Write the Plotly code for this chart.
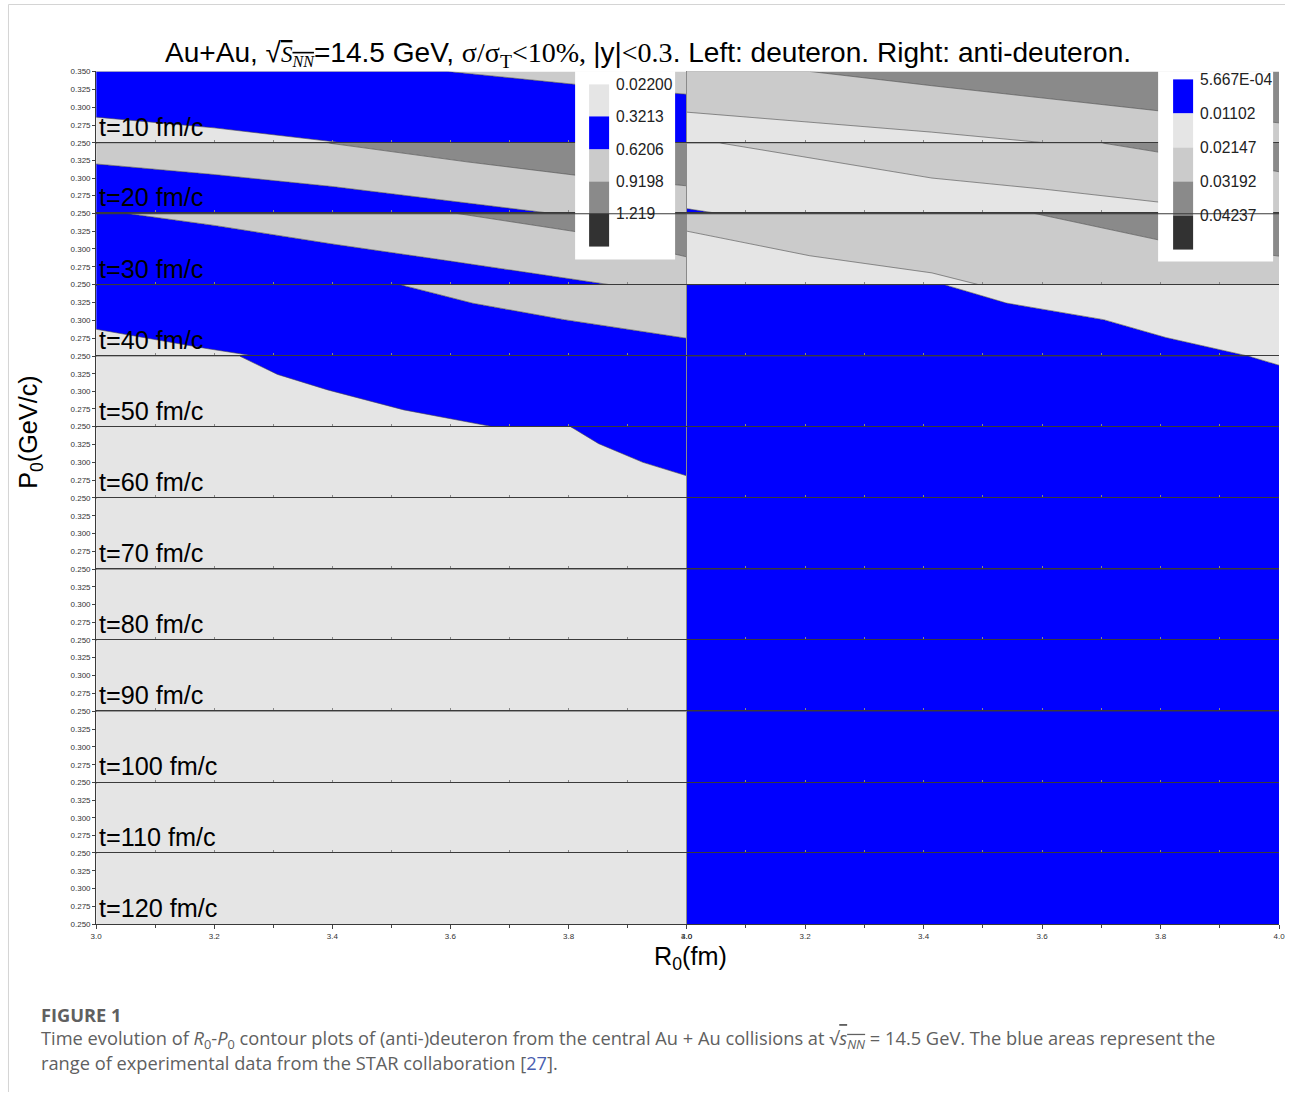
import plotly.graph_objects as go

W, H = 1291, 1097
# calibration of the captured picture (scale and offset observed in the photo)
S, BX, BY = 0.9907, 5.9, 4.7

# ---------------- data ----------------
times = [10, 20, 30, 40, 50, 60, 70, 80, 90, 100, 110, 120]

deut_levels = ["0.02200", "0.3213", "0.6206", "0.9198", "1.219"]
anti_levels = ["5.667E-04", "0.01102", "0.02147", "0.03192", "0.04237"]

# band level index (bottom -> top) in each panel, and the contour boundaries
# between consecutive bands as (R0 values, P0 values)
deut_bands = {10: [0, 1, 2], 20: [1, 2, 3], 30: [1, 2, 3], 40: [0, 1, 2],
              50: [0, 1], 60: [0, 1]}
deut_r = {
    10: [[3.0, 3.2, 3.418, 4.0], [3.0, 3.595, 3.822, 4.0]],
    20: [[3.0, 3.2, 3.4, 3.6, 3.77, 4.0], [3.0, 3.391, 3.628, 3.822, 4.0]],
    30: [[3.0, 3.05, 3.2, 3.4, 3.6, 3.87, 4.0], [3.0, 3.609, 3.822, 4.0]],
    40: [[3.0, 3.184, 3.269, 4.0], [3.0, 3.515, 3.638, 3.793, 4.0]],
    50: [[3.0, 3.243, 3.307, 3.392, 3.521, 3.670, 4.0]],
    60: [[3.0, 3.803, 3.851, 3.926, 4.0]],
}
deut_p = {
    10: [[0.286, 0.271, 0.25, 0.25], [0.35, 0.35, 0.331, 0.318]],
    20: [[0.320, 0.305, 0.288, 0.268, 0.25, 0.25], [0.35, 0.35, 0.323, 0.303, 0.289]],
    30: [[0.35, 0.35, 0.333, 0.307, 0.283, 0.25, 0.25], [0.35, 0.35, 0.323, 0.289]],
    40: [[0.2876, 0.261, 0.25, 0.25], [0.35, 0.35, 0.324, 0.301, 0.275]],
    50: [[0.35, 0.35, 0.324, 0.302, 0.2736, 0.25, 0.25]],
    60: [[0.35, 0.35, 0.326, 0.2998, 0.281]],
}

anti_bands = {10: [1, 2, 3], 20: [0, 1, 2, 3], 30: [1, 2, 3], 40: [0, 1], 50: [0, 1]}
anti_r = {
    10: [[3.0, 3.414, 3.606, 4.0], [3.0, 3.208, 3.414, 3.806, 4.0]],
    20: [[3.0, 3.051, 4.0], [3.0, 3.055, 3.414, 3.606, 3.806, 4.0], [3.0, 3.70, 3.806, 4.0]],
    30: [[3.0, 3.208, 3.414, 3.493, 4.0], [3.0, 3.586, 3.806, 4.0]],
    40: [[3.0, 3.435, 3.540, 3.704, 3.809, 3.948, 4.0]],
    50: [[3.0, 3.948, 4.0]],
}
anti_p = {
    10: [[0.293, 0.265, 0.25, 0.25], [0.35, 0.35, 0.330, 0.294, 0.278]],
    20: [[0.2566, 0.25, 0.25], [0.35, 0.35, 0.300, 0.284, 0.265, 0.25], [0.35, 0.35, 0.3355, 0.309]],
    30: [[0.325, 0.2905, 0.2665, 0.25, 0.25], [0.35, 0.35, 0.311, 0.29]],
    40: [[0.35, 0.35, 0.3242, 0.301, 0.276, 0.25, 0.25]],
    50: [[0.35, 0.35, 0.337]],
}

p_ticks = [0.25, 0.275, 0.30, 0.325, 0.35]
r_ticks = [3.0, 3.2, 3.4, 3.6, 3.8, 4.0]

# ---------------- styles ----------------
deut_colors = ["#e5e5e5", "#0000ff", "#cbcbcb", "#8a8a8a", "#323232"]
anti_colors = ["#0000ff", "#e5e5e5", "#cbcbcb", "#8a8a8a", "#323232"]

COL_X = [(96, 687), (687, 1279)]
ROW_TOP, ROW_H = 72, 71


def clamp(v):
    return min(1.0, max(0.0, v))


def ax_px(X):
    return (X - BX) / S


def ay_px(Y):
    return (Y - BY) / S


def px(X):
    return clamp(ax_px(X) / W)


def py(Y):
    return clamp(1 - ay_px(Y) / H)


def dom_x(X):          # pixel-snapped domain edge
    return clamp(round(ax_px(X)) / W)


def dom_y(Y):
    return clamp(1 - round(ay_px(Y)) / H)


def fs(v):
    return v / S


fig = go.Figure()
layout = dict(width=W, height=H, margin=dict(l=0, r=0, t=0, b=0),
              paper_bgcolor="white", plot_bgcolor="white", showlegend=False)

annotations = []
shapes = []

for r, t in enumerate(times):
    for c in range(2):
        idx = r * 2 + c + 1
        xn = "x" if idx == 1 else f"x{idx}"
        yn = "y" if idx == 1 else f"y{idx}"
        xk = "xaxis" if idx == 1 else f"xaxis{idx}"
        yk = "yaxis" if idx == 1 else f"yaxis{idx}"
        top = ROW_TOP + r * ROW_H
        bot = top + ROW_H
        x0, x1 = COL_X[c]

        xa = dict(domain=[dom_x(x0), dom_x(x1)], range=[3.0, 4.0], anchor=yn,
                  showgrid=False, zeroline=False, showline=True,
                  mirror=(r > 0), linecolor="#3a3a3a", linewidth=1, fixedrange=True)
        if r == len(times) - 1:
            xa.update(ticks="outside", ticklen=4, tickcolor="#444",
                      tickvals=r_ticks, ticktext=[f"{v:.1f}" for v in r_ticks],
                      tickfont=dict(family="Liberation Sans", size=8, color="#333"),
                      minor=dict(ticks="outside", ticklen=3, dtick=0.1, tick0=3.0,
                                 tickcolor="#444"))
        else:
            xa.update(ticks="inside", ticklen=3, tickcolor="#888", dtick=0.1,
                      tick0=3.0, showticklabels=False)
        ya = dict(domain=[dom_y(bot), dom_y(top)], range=[0.25, 0.35], anchor=xn,
                  showgrid=False, zeroline=False, fixedrange=True)
        if c == 0:
            tv = p_ticks if r == 0 else p_ticks[:-1]
            ya.update(showline=True, linecolor="#3a3a3a", linewidth=1,
                      ticks="outside", ticklen=3, tickcolor="#444",
                      tickvals=tv, ticktext=[f"{v:.3f}" for v in tv],
                      tickfont=dict(family="Liberation Sans", size=8, color="#333"))
        else:
            ya.update(showline=True, linecolor="#8a8a8a", linewidth=1,
                      showticklabels=False, ticks="")
        layout[xk] = xa
        layout[yk] = ya

        if c == 0:
            bands = deut_bands.get(t, [0])
            rs, ps = deut_r.get(t, []), deut_p.get(t, [])
            colors = deut_colors
        else:
            bands = anti_bands.get(t, [0])
            rs, ps = anti_r.get(t, []), anti_p.get(t, [])
            colors = anti_colors

        fig.add_trace(go.Scatter(x=[3.0, 4.0], y=[0.25, 0.25], mode="lines",
                                 line=dict(width=0), hoverinfo="skip",
                                 xaxis=xn, yaxis=yn))
        for k, (rr, pp) in enumerate(zip(rs, ps)):
            fig.add_trace(go.Scatter(x=rr, y=pp, mode="lines",
                                     line=dict(color="#4a4a4a", width=0.6),
                                     fill="tonexty", fillcolor=colors[bands[k]],
                                     hoverinfo="skip", xaxis=xn, yaxis=yn))
        fig.add_trace(go.Scatter(x=[3.0, 4.0], y=[0.35, 0.35], mode="lines",
                                 line=dict(width=0), fill="tonexty",
                                 fillcolor=colors[bands[-1]], hoverinfo="skip",
                                 xaxis=xn, yaxis=yn))

        if c == 0:
            annotations.append(dict(
                text=f"t={t} fm/c", xref=xn, yref=yn, x=3.002, y=0.2725,
                xanchor="left", yanchor="middle", showarrow=False,
                font=dict(family="Liberation Sans", size=fs(25), color="black")))


# ---------------- legends (colour keys) ----------------
def colour_key(box, sw_x, edges, labels, colors, label_x):
    shapes.append(dict(type="rect", xref="paper", yref="paper",
                       x0=px(box[0]), x1=px(box[1]), y0=py(box[3]), y1=py(box[2]),
                       fillcolor="white", line=dict(width=0), layer="above"))
    for i in range(len(edges) - 1):
        shapes.append(dict(type="rect", xref="paper", yref="paper",
                           x0=px(sw_x[0]), x1=px(sw_x[1]),
                           y0=py(edges[i + 1]), y1=py(edges[i]),
                           fillcolor=colors[i], line=dict(width=0), layer="above"))
    for i, lab in enumerate(labels):
        annotations.append(dict(text=lab, xref="paper", yref="paper",
                                x=px(label_x), y=py(edges[i]), xanchor="left",
                                yanchor="middle", showarrow=False,
                                font=dict(family="Liberation Sans", size=fs(15.5),
                                          color="#222")))


colour_key((575, 675, 72, 260), (589, 609), [85, 117, 150, 182, 214, 247],
           deut_levels, deut_colors, 614)
colour_key((1158, 1273, 72, 262), (1173, 1193), [80, 114, 148, 182, 216, 250],
           anti_levels, anti_colors, 1198)

# row separator drawn on top of the keys (snapped onto the axis line pixel)
sep_y = 1 - (round(ay_px(214)) + 0.5) / H
shapes.append(dict(type="line", xref="paper", yref="paper", x0=dom_x(96), x1=dom_x(1279),
                   y0=sep_y, y1=sep_y, line=dict(color="#3a3a3a", width=1),
                   layer="above"))

# page frame
fx = (round(ax_px(8)) + 0.5) / W
fy = 1 - (round(ay_px(5)) + 0.5) / H
shapes.append(dict(type="line", xref="paper", yref="paper", x0=fx, x1=fx,
                   y0=0, y1=fy, line=dict(color="#d4d4d4", width=1)))
shapes.append(dict(type="line", xref="paper", yref="paper", x0=fx, x1=1,
                   y0=fy, y1=fy, line=dict(color="#d4d4d4", width=1)))

# ---------------- titles ----------------
serif = "font-family:'Liberation Serif'"
title = ("Au+Au, √<span style=\"" + serif + ";font-size:23px;text-decoration:overline\">"
         "<i>S<sub>NN</sub></i></span>=14.5 GeV, "
         "<span style=\"" + serif + "\">σ/σ<sub>T</sub>&lt;10%, </span>|y|"
         "<span style=\"" + serif + "\">&lt;0.3</span>. Left: deuteron. Right: anti-deuteron.")
annotations.append(dict(text=title, xref="paper", yref="paper", x=px(647.5), y=py(55),
                        xanchor="center", yanchor="middle", showarrow=False,
                        font=dict(family="Liberation Sans", size=fs(27.8), color="black")))

annotations.append(dict(text="P<sub>0</sub>(GeV/c)", xref="paper", yref="paper",
                        x=px(30), y=py(432), textangle=-90, showarrow=False,
                        xanchor="center", yanchor="middle",
                        font=dict(family="Liberation Sans", size=fs(25), color="black")))
annotations.append(dict(text="R<sub>0</sub>(fm)", xref="paper", yref="paper",
                        x=px(690), y=py(958), showarrow=False,
                        xanchor="center", yanchor="middle",
                        font=dict(family="Liberation Sans", size=fs(25), color="black")))

# ---------------- caption ----------------
cap_font = dict(family="Open Sans", size=fs(18.1), color="#606060")
annotations.append(dict(text="<b>FIGURE 1</b>", xref="paper", yref="paper",
                        x=px(39), y=py(1014), xanchor="left", yanchor="middle",
                        showarrow=False, font=cap_font))
annotations.append(dict(
    text=("Time evolution of <i>R</i><sub>0</sub>-<i>P</i><sub>0</sub> contour plots of "
          "(anti-)deuteron from the central Au + Au collisions at "
          "√<span style=\"text-decoration:overline\"><i>s<sub>NN</sub></i></span>"
          " = 14.5 GeV. The blue areas represent the"),
    xref="paper", yref="paper", x=px(39), y=py(1039), xanchor="left",
    yanchor="middle", showarrow=False, font=cap_font))
annotations.append(dict(
    text=("range of experimental data from the STAR collaboration "
          "[<span style=\"color:#4a5fb0\">27</span>]."),
    xref="paper", yref="paper", x=px(39), y=py(1062), xanchor="left",
    yanchor="middle", showarrow=False, font=cap_font))

layout["annotations"] = annotations
layout["shapes"] = shapes
fig.update_layout(**layout)

fig.write_html("out.html", config={"displayModeBar": False},
               post_script="document.body.style.margin='0';")
